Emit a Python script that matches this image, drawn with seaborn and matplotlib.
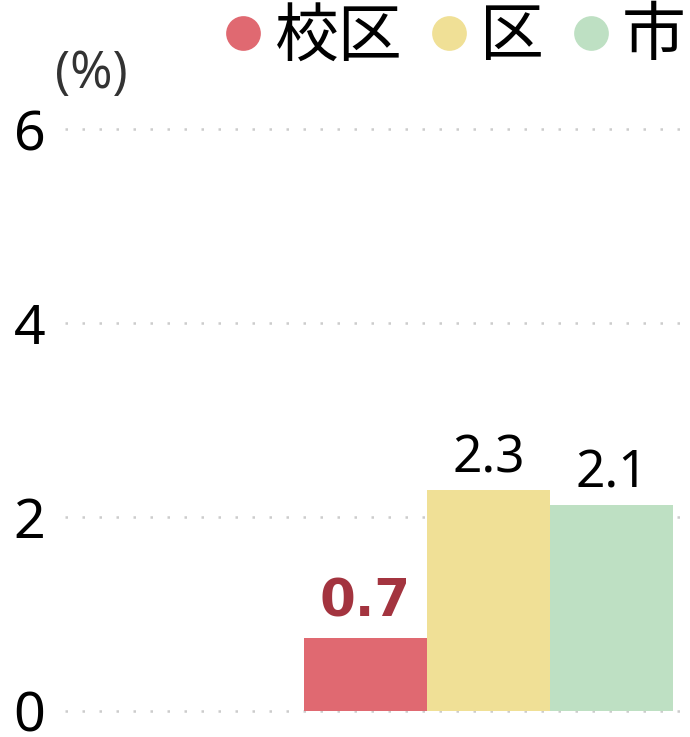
import matplotlib
matplotlib.use("Agg")
import matplotlib.pyplot as plt
from matplotlib.lines import Line2D
import seaborn as sns
import pandas as pd

categories = ["校区", "区", "市"]
values = [0.75, 2.28, 2.12]
value_labels = ["0.7", "2.3", "2.1"]
colors = ["#E06971", "#F0E096", "#BEE0C3"]
yticks = [0, 2, 4, 6]

sns.set_theme(style="white")
plt.rcParams['font.family'] = ['Noto Sans', 'Noto Sans CJK JP', 'DejaVu Sans']

df = pd.DataFrame({"cat": categories, "val": values})

fig = plt.figure(figsize=(6.9, 7.37), dpi=100)
ax = fig.add_axes([65/690, 26/737, 615/690, 582/737])

sns.barplot(data=df, x="cat", y="val", hue="cat", palette=colors,
            width=1.0, legend=False, ax=ax, saturation=1, linewidth=0)

ax.set_xlim(-2.443, 2.557)
ax.set_ylim(0, 6)
ax.set_yticks(yticks)
ax.set_yticklabels([str(t) for t in yticks], fontsize=40, color="black")
ax.tick_params(axis="y", length=0, pad=14)
ax.set_xticks([])
ax.set_xlabel("")
ax.set_ylabel("")
for s in ax.spines.values():
    s.set_visible(False)

for t in yticks:
    ax.axhline(t, color="#cccccc", linewidth=1.8, linestyle=(0, (1, 5.8)),
               zorder=0, clip_on=False)

for i, (v, lab) in enumerate(zip(values, value_labels)):
    if i == 0:
        ax.annotate(lab, (i, v), xytext=(0, 8), textcoords="offset points",
                    ha="center", va="bottom", fontsize=37, fontweight="bold",
                    color="#A3343F", family=["DejaVu Sans"])
    else:
        ax.annotate(lab, (i, v), xytext=(0, 4), textcoords="offset points",
                    ha="center", va="bottom", fontsize=37, color="black")

fig.text(91/690, 1 - 74/737, "(%)", fontsize=37, color="#333333",
         family=["Open Sans", "Noto Sans"], ha="center", va="center")

handles = [Line2D([], [], linestyle="none", marker="o", markersize=25,
                  markerfacecolor=c, markeredgewidth=0) for c in colors]
leg = fig.legend(handles, categories, loc="upper right",
                 bbox_to_anchor=(686/690, 1 - 4/737), ncol=3, frameon=False,
                 prop={"family": ["Noto Sans CJK JP"], "size": 46},
                 handlelength=0.55, handletextpad=0.22, columnspacing=0.45,
                 borderpad=0, borderaxespad=0, labelcolor="black")

fig.savefig("out.png", dpi=100, facecolor="white")
